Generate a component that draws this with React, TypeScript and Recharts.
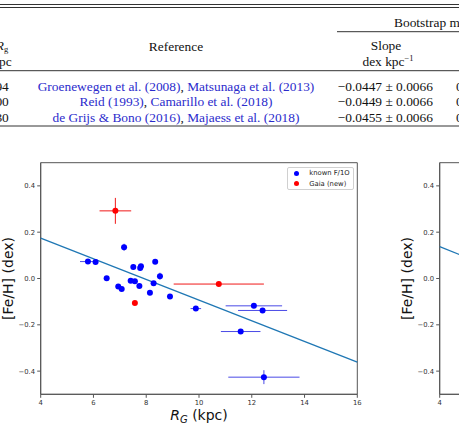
import { ErrorBar, Label, Legend, ReferenceArea, Scatter, ScatterChart, XAxis, YAxis } from "recharts";

// known F/1O Cepheids
const knownR = [5.79, 6.08, 6.5, 6.94, 7.07, 7.16, 7.41, 7.51, 7.57, 7.74, 7.77, 7.8, 8.14, 8.28, 8.34, 8.52, 8.9, 9.88, 11.58, 12.08, 12.41, 12.46];
const knownFeH = [0.073, 0.071, 0.001, -0.035, -0.045, 0.135, -0.01, 0.05, -0.012, -0.032, 0.045, 0.053, -0.062, -0.02, 0.072, 0.01, -0.078, -0.13, -0.229, -0.118, -0.138, -0.426];
const knownErrR = [0.3, 0.1, 0.06, 0.05, 0.05, 0.06, 0.05, 0.08, 0.06, 0.05, 0.06, 0.05, 0.06, 0.1, 0.05, 0.07, 0.05, 0.2, 0.75, 1.07, 0.93, 1.35];
const knownErrFeH = [0.01, 0.008, 0.008, 0.008, 0.008, 0.015, 0.008, 0.012, 0.008, 0.008, 0.01, 0.01, 0.01, 0.008, 0.008, 0.015, 0.008, 0.008, 0.01, 0.01, 0.01, 0.03];

// new Gaia stars
const gaiaR = [6.83, 7.57, 10.75];
const gaiaFeH = [0.292, -0.106, -0.024];
const gaiaErrR = [0.6, 0.03, 1.71];
const gaiaErrFeH = [0.056, 0.005, 0.005];

// fitted gradients
const fitR = [4, 16];
const fitFeH = [0.174, -0.361];
const fit2FeH = [0.138, -0.414];

const xTicks = [4, 6, 8, 10, 12, 14, 16];
const yTicks = [-0.4, -0.2, 0, 0.2, 0.4];

const legendItems = [
  { label: "known F/1O", color: "#0000ff" },
  { label: "Gaia (new)", color: "#ff0000" },
];

// table rows
const tableRsun = ["7.94", "8.00", "8.30"];
const tableRefs = [
  ["Groenewegen et al. (2008)", "Matsunaga et al. (2013)"],
  ["Reid (1993)", "Camarillo et al. (2018)"],
  ["de Grijs & Bono (2016)", "Majaess et al. (2018)"],
];
const tableSlopes = ["\u22120.0447 \u00b1 0.0066", "\u22120.0449 \u00b1 0.0066", "\u22120.0455 \u00b1 0.0066"];

const known = knownR.map((r, i) => ({ r, feh: knownFeH[i], ex: knownErrR[i], ey: knownErrFeH[i] }));
const gaia = gaiaR.map((r, i) => ({ r, feh: gaiaFeH[i], ex: gaiaErrR[i], ey: gaiaErrFeH[i] }));
const fit1 = fitR.map((r, i) => ({ r, feh: fitFeH[i] }));
const fit2 = fitR.map((r, i) => ({ r, feh: fit2FeH[i] }));

const sans = "DejaVu Sans, sans-serif";
const serif = "Liberation Serif, Times New Roman, serif";
const linkBlue = "#2b2bcc";
const spine = "#555";

const fmtY = (v: number) => v.toFixed(1).replace("-", "\u2212");

const LegendBox = () => (
  <div
    style={{
      width: 65.3,
      height: 20.6,
      border: "1px solid #d0d0d0",
      borderRadius: 2,
      background: "#fff",
      fontFamily: sans,
      fontSize: 6.8,
      color: "#222",
      paddingTop: 0.5,
      boxSizing: "content-box",
    }}
  >
    {legendItems.map((item) => (
      <div key={item.label} style={{ display: "flex", alignItems: "center", height: 10.3 }}>
        <span
          style={{ width: 5, height: 5, borderRadius: "50%", background: item.color, marginLeft: 6.5, marginRight: 10.1 }}
        />
        <span>{item.label}</span>
      </div>
    ))}
  </div>
);

const dot = (color: string) => (p: any) => <circle cx={p.cx} cy={p.cy} r={3} fill={color} />;

const Panel = ({ left, fit, points }: { left: number; fit: { r: number; feh: number }[]; points: boolean }) => (
  <div style={{ position: "absolute", left, top: 0 }}>
    <ScatterChart width={459} height={427} margin={{ top: 162.7, right: 101.7, bottom: 0, left: 0 }}>
      <XAxis
        type="number"
        dataKey="r"
        domain={[4, 16]}
        ticks={xTicks}
        interval={0}
        height={32.7}
        tickSize={3.5}
        tickMargin={2}
        axisLine={{ stroke: spine }}
        tickLine={{ stroke: spine }}
        tick={{ fontSize: 6.8, fill: "#333", fontFamily: sans }}
      >
        <Label
          content={({ viewBox }: any) => (
            <text
              x={viewBox.x + viewBox.width / 2}
              y={viewBox.y + 26}
              textAnchor="middle"
              fontFamily={sans}
              fontSize={14}
              fill="#111"
            >
              <tspan fontStyle="italic">R</tspan>
              <tspan fontStyle="italic" fontSize={10} dy={3}>
                G
              </tspan>
              <tspan dy={-3}> (kpc)</tspan>
            </text>
          )}
        />
      </XAxis>
      <YAxis
        type="number"
        dataKey="feh"
        domain={[-0.5, 0.5]}
        ticks={yTicks}
        interval={0}
        width={40.7}
        tickSize={3.5}
        tickMargin={2.2}
        tickFormatter={fmtY}
        axisLine={{ stroke: spine }}
        tickLine={{ stroke: spine }}
        tick={{ fontSize: 6.8, fill: "#333", fontFamily: sans }}
      >
        <Label
          content={({ viewBox }: any) => {
            const cx = viewBox.x + viewBox.width - 32.6;
            const cy = viewBox.y + viewBox.height / 2;
            return (
              <text
                x={cx}
                y={cy}
                transform={`rotate(-90 ${cx} ${cy})`}
                textAnchor="middle"
                dominantBaseline="central"
                fontFamily={sans}
                fontSize={14}
                fill="#111"
              >
                [Fe/H] (dex)
              </text>
            );
          }}
        />
      </YAxis>
      <ReferenceArea x1={4} x2={16} y1={-0.5} y2={0.5} fill="none" stroke={spine} strokeWidth={1} />
      <Scatter
        data={fit}
        line={{ stroke: "#1f77b4", strokeWidth: 1.3 }}
        shape={() => <g />}
        legendType="none"
        isAnimationActive={false}
      />
      {points && (
        <Scatter data={known} shape={dot("#0000ff")} isAnimationActive={false}>
          <ErrorBar dataKey="ex" direction="x" width={0} stroke="#4a4ae6" strokeWidth={1} />
          <ErrorBar dataKey="ey" direction="y" width={0} stroke="#4a4ae6" strokeWidth={1} />
        </Scatter>
      )}
      {points && (
        <Scatter data={gaia} shape={dot("#ff0000")} isAnimationActive={false}>
          <ErrorBar dataKey="ex" direction="x" width={0} stroke="#f01818" strokeWidth={1} />
          <ErrorBar dataKey="ey" direction="y" width={0} stroke="#f01818" strokeWidth={1} />
        </Scatter>
      )}
      {points && (
        <Legend
          layout="horizontal"
          verticalAlign="middle"
          align="center"
          wrapperStyle={{ left: 286.7, top: 166.7, right: "auto", bottom: "auto", width: 67.3, height: 22.6 }}
          content={() => <LegendBox />}
        />
      )}
    </ScatterChart>
  </div>
);

const rowBase = [91, 106.3, 121.6];

const Table = () => (
  <svg width={459} height={130} style={{ position: "absolute", left: 0, top: 0 }}>
    <g stroke="#333" strokeWidth={1}>
      <line x1={0} x2={459} y1={4.5} y2={4.5} />
      <line x1={0} x2={459} y1={7.5} y2={7.5} />
      <line x1={337} x2={459} y1={31.7} y2={31.7} />
      <line x1={0} x2={459} y1={70.7} y2={70.7} />
      <line x1={0} x2={459} y1={126} y2={126} />
    </g>
    <g fontFamily={serif} fontSize={13.4} fill="#111">
      <text x={394} y={27}>Bootstrap method</text>
      <text x={2} y={49.5} textAnchor="middle">
        <tspan fontStyle="italic">R</tspan>
        <tspan fontSize={8.5} dy={2}>g</tspan>
      </text>
      <text x={2} y={66} textAnchor="middle">kpc</text>
      <text x={176} y={50.5} textAnchor="middle">Reference</text>
      <text x={386} y={50} textAnchor="middle">Slope</text>
      <text x={388} y={66} textAnchor="middle">
        dex kpc
        <tspan fontSize={8.5} dy={-5}>{"\u22121"}</tspan>
      </text>
      {tableRsun.map((v, i) => (
        <text key={v} x={8.8} y={rowBase[i]} textAnchor="end">
          {v}
        </text>
      ))}
      {tableRefs.map((refs, i) => (
        <text key={refs[0]} x={176} y={rowBase[i]} textAnchor="middle">
          <tspan fill={linkBlue}>{refs[0]}</tspan>
          <tspan>, </tspan>
          <tspan fill={linkBlue}>{refs[1]}</tspan>
        </text>
      ))}
      {tableSlopes.map((v, i) => (
        <text key={v} x={385.3} y={rowBase[i]} textAnchor="middle">
          {v}
        </text>
      ))}
      {tableSlopes.map((v, i) => (
        <text key={"c" + v} x={456} y={rowBase[i]}>
          0
        </text>
      ))}
    </g>
  </svg>
);

export default function App() {
  return (
    <div
      style={{
        position: "absolute",
        left: 0,
        top: 0,
        width: 459,
        height: 427,
        overflow: "hidden",
        background: "#fff",
      }}
    >
      <Table />
      <Panel left={0} fit={fit1} points={true} />
      <Panel left={398.6} fit={fit2} points={false} />
    </div>
  );
}
